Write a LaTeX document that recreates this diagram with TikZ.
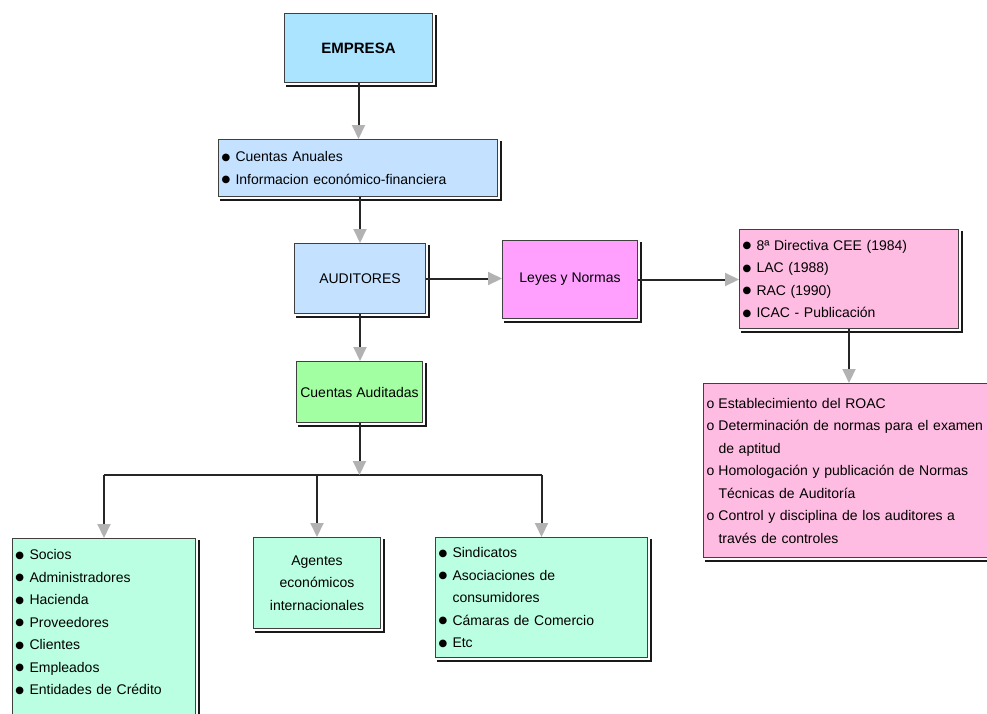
\documentclass[tikz,border=0pt]{standalone}
\usepackage{fontspec}
\setmainfont{Liberation Sans}
\newfontfamily\symf{DejaVu Sans}
\usetikzlibrary{arrows.meta}

\definecolor{cEmp}{RGB}{170,228,255}
\definecolor{cBlue}{RGB}{196,226,255}
\definecolor{cMag}{RGB}{255,160,255}
\definecolor{cPink}{RGB}{255,188,226}
\definecolor{cGreen}{RGB}{162,255,162}
\definecolor{cMint}{RGB}{186,255,226}

% bullet markers for the list boxes
\newcommand\bul{\makebox[14pt][l]{\raisebox{1.3pt}{\symf\fontsize{10}{10}\selectfont ●}}}
\newcommand\opt{\makebox[12pt][l]{o}}
\newcommand\hang{\hspace*{12pt}}

\begin{document}
\begin{tikzpicture}[x=1pt,y=-1pt,
  box/.style={draw=black!75, line width=1pt, inner sep=0pt, anchor=north west,
              font=\fontsize{14}{22.5}\selectfont},
  listbox/.style={box, align=left, inner xsep=3pt},
  shadowline/.style={draw=black!90, line width=2pt},
  link/.style={draw=black!85, line width=2pt},
  arr/.style={link, -{Triangle[length=14pt,width=13pt,color=black!30,fill=black!30]}}
]
\useasboundingbox (0,0) rectangle (987,713);

% boxes
\node[box, fill=cEmp, minimum width=148, minimum height=69, font=\fontsize{15}{22.5}\selectfont\bfseries]
  (empresa) at (284,13) {EMPRESA};
\node[listbox, fill=cBlue, minimum width=279, minimum height=57, text width=273]
  (anuales) at (218,139) {\bul Cuentas Anuales\\ \bul Informacion económico-financiera};
\node[box, fill=cBlue, minimum width=131, minimum height=70]
  (auditores) at (294,243) {AUDITORES};
\node[box, fill=cMag, minimum width=135, minimum height=78]
  (leyes) at (502,240) {Leyes y Normas};
\node[listbox, fill=cPink, minimum width=219, minimum height=99, text width=213]
  (lac) at (739,229) {\bul 8ª Directiva CEE (1984)\\ \bul LAC (1988)\\ \bul RAC (1990)\\ \bul ICAC - Publicación};
\node[listbox, fill=cPink, minimum width=300, minimum height=174, text width=294]
  (roac) at (703,383) {\opt Establecimiento del ROAC\\
    \opt Determinación de normas para el examen\\ \hang de aptitud\\
    \opt Homologación y publicación de Normas\\ \hang Técnicas de Auditoría\\
    \opt Control y disciplina de los auditores a\\ \hang través de controles};
\node[box, fill=cGreen, minimum width=126, minimum height=61]
  (auditadas) at (296,361) {Cuentas Auditadas};
\node[listbox, fill=cMint, minimum width=183, minimum height=212, text width=177]
  (socios) at (12,538) {\bul Socios\\ \bul Administradores\\ \bul Hacienda\\ \bul Proveedores\\
    \bul Clientes\\ \bul Empleados\\ \bul Entidades de Crédito\\ ~\\ ~};
\node[box, fill=cMint, minimum width=127, minimum height=91, align=center]
  (agentes) at (253,537) {Agentes\\ económicos\\ internacionales};
\node[listbox, fill=cMint, minimum width=212, minimum height=120, text width=206]
  (sindicatos) at (435,537) {\bul Sindicatos\\ \bul Asociaciones de\\ \hang\hspace*{2pt}consumidores\\
    \bul Cámaras de Comercio\\ \bul Etc};

% drop shadows on the right and bottom edges
\foreach \n in {empresa,anuales,auditores,leyes,lac,roac,auditadas,socios,agentes,sindicatos}
  \draw[shadowline] ([xshift=2.5pt,yshift=-2pt]\n.north east) |- ([xshift=2pt,yshift=-2.5pt]\n.south west);

% connectors
\draw[arr] (empresa.south) -- (empresa.south |- anuales.north);
\draw[arr] (auditores.north |- anuales.south) -- (auditores.north);
\draw[arr] (auditores.east) -- (auditores.east -| leyes.west);
\draw[arr] (leyes.east) -- (leyes.east -| lac.west);
\draw[arr] (lac.south) -- (lac.south |- roac.north);
\draw[arr] (auditores.south) -- (auditores.south |- auditadas.north);

\coordinate (hub) at (359,475);
\draw[link] (socios.north |- hub) -- (sindicatos.north |- hub);
\draw[arr] (auditadas.south) -- (auditadas.south |- hub);
\draw[arr] (socios.north |- hub) -- (socios.north);
\draw[arr] (agentes.north |- hub) -- (agentes.north);
\draw[arr] (sindicatos.north |- hub) -- (sindicatos.north);
\end{tikzpicture}
\end{document}
